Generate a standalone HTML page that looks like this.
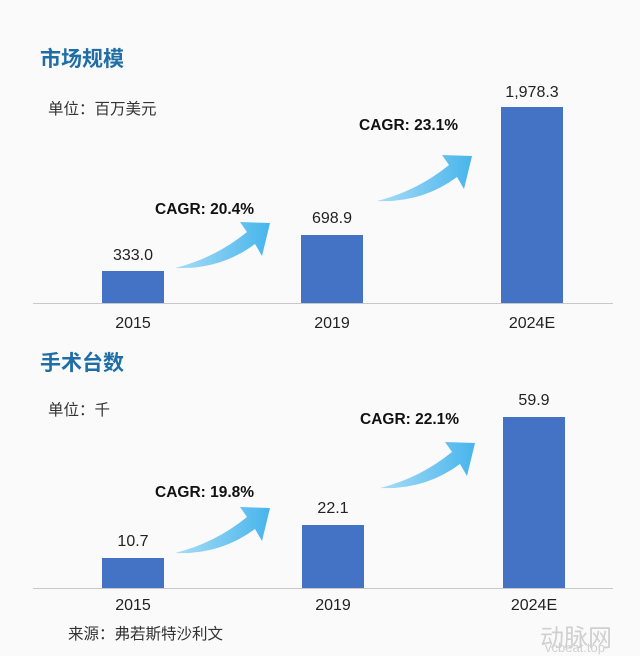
<!DOCTYPE html>
<html><head><meta charset="utf-8"><style>
body{margin:0;width:640px;height:656px;background:#fafafb;position:relative;overflow:hidden;font-family:"Liberation Sans","Noto Sans CJK SC",sans-serif;color:#222}
.t{position:absolute;white-space:nowrap}
.title{font-size:21px;font-weight:bold;color:#1f6ea6}
.unit{font-size:15.5px;color:#333}
.bar{position:absolute;background:#4472c4;width:62px}
.ax{position:absolute;left:33px;width:580px;height:1px;background:#c8c8cc}
.v{font-size:16px;text-align:center;width:100px;color:#222}
.c{font-size:15.5px;font-weight:bold;color:#111}
</style></head><body>
<div class="t title" style="left:40px;top:43px">市场规模</div>
<div class="t unit" style="left:48px;top:97px">单位：百万美元</div>
<div class="bar" style="left:102px;top:271px;height:32px"></div>
<div class="bar" style="left:301px;top:235px;height:68px"></div>
<div class="bar" style="left:501px;top:107px;height:196px"></div>
<div class="ax" style="top:303px"></div>
<div class="t v" style="left:83px;top:247px">333.0</div>
<div class="t v" style="left:282px;top:210px">698.9</div>
<div class="t v" style="left:482px;top:84px">1,978.3</div>
<div class="t v" style="left:83px;top:315px">2015</div>
<div class="t v" style="left:282px;top:315px">2019</div>
<div class="t v" style="left:482px;top:315px">2024E</div>
<div class="t c" style="left:155px;top:201px">CAGR: 20.4%</div>
<div class="t c" style="left:359px;top:117px">CAGR: 23.1%</div>

<div class="t title" style="left:40px;top:347px">手术台数</div>
<div class="t unit" style="left:48px;top:398px">单位：千</div>
<div class="bar" style="left:102px;top:558px;height:30px"></div>
<div class="bar" style="left:302px;top:525px;height:63px"></div>
<div class="bar" style="left:503px;top:417px;height:171px"></div>
<div class="ax" style="top:588px"></div>
<div class="t v" style="left:83px;top:533px">10.7</div>
<div class="t v" style="left:283px;top:500px">22.1</div>
<div class="t v" style="left:484px;top:392px">59.9</div>
<div class="t v" style="left:83px;top:597px">2015</div>
<div class="t v" style="left:283px;top:597px">2019</div>
<div class="t v" style="left:484px;top:597px">2024E</div>
<div class="t c" style="left:155px;top:484px">CAGR: 19.8%</div>
<div class="t c" style="left:360px;top:411px">CAGR: 22.1%</div>
<div class="t unit" style="left:68px;top:622px">来源：弗若斯特沙利文</div>
<div class="t" style="left:540px;top:618px;font-size:24px;color:#d0d0d0">动脉网</div>
<div class="t" style="left:545px;top:640px;font-size:13px;color:#d0d0d0">vcbeat.top</div>

<svg width="640" height="656" style="position:absolute;left:0;top:0">
<defs><linearGradient id="g" x1="0" y1="0" x2="1" y2="0">
<stop offset="0" stop-color="#a9dcf5"/><stop offset="1" stop-color="#47b5ec"/></linearGradient></defs>
<g id="a" transform="translate(175,268)">
<path d="M0,0 Q40,-10 72,-36 L65,-46 L95,-45 L87,-12 L80,-24 Q45,2 0,0 Z" fill="url(#g)"/></g>
<use href="#a" transform="translate(202,-67)"/>
<use href="#a" transform="translate(0,285)"/>
<use href="#a" transform="translate(205,220)"/>
</svg>
</body></html>
